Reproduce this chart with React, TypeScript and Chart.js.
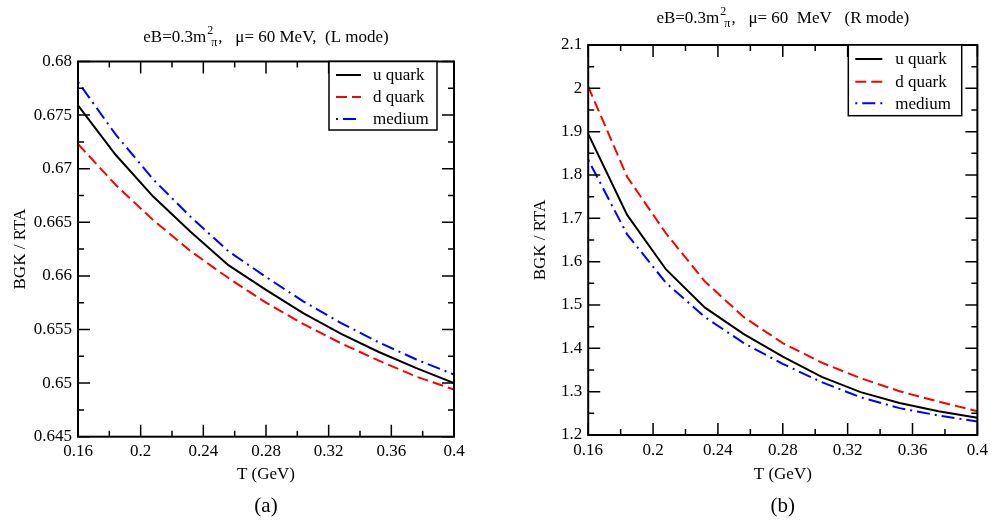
import React, { useEffect, useRef } from 'react';
import { Chart, registerables } from 'chart.js';

Chart.register(...registerables);

const FONT = '"Liberation Serif", "Times New Roman", serif';

// ---- data ----
const T_GEV = [0.16, 0.184, 0.208, 0.232, 0.256, 0.28, 0.304, 0.328, 0.352, 0.376, 0.4];

const L_U_QUARK = [0.6759, 0.6713, 0.6674, 0.6641, 0.661, 0.6587, 0.6565, 0.6546, 0.6529, 0.6514, 0.65];
const L_D_QUARK = [0.6723, 0.6685, 0.6652, 0.6623, 0.6598, 0.6575, 0.6555, 0.6537, 0.6521, 0.6506, 0.6494];
const L_MEDIUM = [0.6781, 0.6732, 0.669, 0.6655, 0.6623, 0.6599, 0.6576, 0.6556, 0.6538, 0.6522, 0.6508];

const R_U_QUARK = [1.895, 1.708, 1.582, 1.494, 1.433, 1.381, 1.334, 1.299, 1.274, 1.255, 1.24];
const R_D_QUARK = [2.004, 1.796, 1.665, 1.554, 1.472, 1.412, 1.367, 1.331, 1.301, 1.277, 1.255];
const R_MEDIUM = [1.835, 1.663, 1.551, 1.472, 1.412, 1.364, 1.322, 1.287, 1.262, 1.245, 1.231];

const SERIES_LABELS = ['u quark', 'd quark', 'medium'];

const X_TICK_VALUES = [0.16, 0.18, 0.2, 0.22, 0.24, 0.26, 0.28, 0.3, 0.32, 0.34, 0.36, 0.38, 0.4];
const X_TICK_LABELS = ['0.16', '', '0.2', '', '0.24', '', '0.28', '', '0.32', '', '0.36', '', '0.4'];

const L_Y_TICK_VALUES = [0.645, 0.6475, 0.65, 0.6525, 0.655, 0.6575, 0.66, 0.6625, 0.665, 0.6675, 0.67, 0.6725, 0.675, 0.6775, 0.68];
const L_Y_TICK_LABELS = ['0.645', '', '0.65', '', '0.655', '', '0.66', '', '0.665', '', '0.67', '', '0.675', '', '0.68'];

const R_Y_TICK_VALUES = [1.2, 1.25, 1.3, 1.35, 1.4, 1.45, 1.5, 1.55, 1.6, 1.65, 1.7, 1.75, 1.8, 1.85, 1.9, 1.95, 2.0, 2.05, 2.1];
const R_Y_TICK_LABELS = ['1.2', '', '1.3', '', '1.4', '', '1.5', '', '1.6', '', '1.7', '', '1.8', '', '1.9', '', '2', '', '2.1'];

const STYLES = [
  { color: '#000000', dash: [] as number[], offset: 0 },
  { color: '#ff0000', dash: [11, 5], offset: 0 },
  { color: '#0000ff', dash: [13, 5, 2, 5], offset: 18 },
];

type PanelCfg = {
  left: number;
  width: number;
  padTop: number;
  padRight: number;
  padBottom: number;
  yAxisWidth: number;
  yTitlePad: number;
  xTitlePad: number;
  yMin: number;
  yMax: number;
  yTicks: number[];
  yLabels: string[];
  series: number[][];
  titleA: string;
  titleB: string;
  titleBaseline: number;
  legend: { left: number; top: number; w: number; h: number; rows: number[]; lineX0: number; lineX1: number; textX: number };
  tag: string;
};

const decorPlugin = {
  id: 'decor',
  afterDatasetsDraw(chart: any, _args: any, o: any) {
    const { ctx, chartArea: a } = chart;
    const xs = chart.scales.x;
    const ys = chart.scales.y;
    ctx.save();
    ctx.strokeStyle = '#000';
    ctx.lineWidth = 1.5;
    ctx.setLineDash([]);
    xs.ticks.forEach((t: any, i: number) => {
      const len = o.xLabels[i] !== '' ? 12 : 6;
      const px = xs.getPixelForValue(t.value);
      ctx.beginPath();
      ctx.moveTo(px, a.bottom);
      ctx.lineTo(px, a.bottom - len);
      ctx.moveTo(px, a.top);
      ctx.lineTo(px, a.top + len);
      ctx.stroke();
    });
    ys.ticks.forEach((t: any, i: number) => {
      const len = o.yLabels[i] !== '' ? 12 : 6;
      const py = ys.getPixelForValue(t.value);
      ctx.beginPath();
      ctx.moveTo(a.left, py);
      ctx.lineTo(a.left + len, py);
      ctx.moveTo(a.right, py);
      ctx.lineTo(a.right - len, py);
      ctx.stroke();
    });
    // frame
    ctx.lineWidth = 2;
    ctx.strokeRect(a.left, a.top, a.right - a.left, a.bottom - a.top);

    // legend
    const lg = o.legend;
    ctx.fillStyle = '#fff';
    ctx.fillRect(lg.left, lg.top, lg.w, lg.h);
    ctx.lineWidth = 1.5;
    ctx.strokeStyle = '#000';
    ctx.strokeRect(lg.left, lg.top, lg.w, lg.h);
    ctx.font = `17px ${FONT}`;
    ctx.textBaseline = 'middle';
    ctx.textAlign = 'left';
    chart.data.datasets.forEach((ds: any, i: number) => {
      const y = lg.top + lg.rows[i];
      ctx.beginPath();
      ctx.strokeStyle = ds.borderColor;
      ctx.lineWidth = 2;
      ctx.setLineDash(ds.borderDash || []);
      ctx.lineDashOffset = ds.borderDashOffset || 0;
      ctx.moveTo(lg.left + lg.lineX0, y);
      ctx.lineTo(lg.left + lg.lineX1, y);
      ctx.stroke();
      ctx.setLineDash([]);
      ctx.lineDashOffset = 0;
      ctx.fillStyle = '#000';
      ctx.fillText(ds.label, lg.left + lg.textX, y + 1);
    });

    // title with super/subscripts
    const cx = (a.left + a.right) / 2;
    const big = `17px ${FONT}`;
    const small = `12px ${FONT}`;
    ctx.textBaseline = 'alphabetic';
    ctx.font = big;
    const wA = ctx.measureText(o.titleA).width;
    const wB = ctx.measureText(o.titleB).width;
    ctx.font = small;
    const wPi = ctx.measureText('π').width;
    const total = wA + 6 + wPi + wB;
    let x = cx - total / 2;
    const by = o.titleBaseline;
    ctx.fillStyle = '#000';
    ctx.font = big;
    ctx.fillText(o.titleA, x, by);
    x += wA;
    ctx.font = small;
    ctx.fillText('2', x + 1, by - 8);
    ctx.fillText('π', x + 5, by + 4);
    x += 6 + wPi;
    ctx.font = big;
    ctx.fillText(o.titleB, x, by);

    // panel tag
    ctx.font = `21px ${FONT}`;
    ctx.textAlign = 'center';
    ctx.textBaseline = 'middle';
    ctx.fillText(o.tag, cx, 506);
    ctx.restore();
  },
};

const LEFT_CFG: PanelCfg = {
  left: 0,
  width: 496,
  padTop: 61.5,
  padRight: 42,
  padBottom: 31.3,
  yAxisWidth: 78,
  yTitlePad: 10,
  xTitlePad: 3.5,
  yMin: 0.645,
  yMax: 0.68,
  yTicks: L_Y_TICK_VALUES,
  yLabels: L_Y_TICK_LABELS,
  series: [L_U_QUARK, L_D_QUARK, L_MEDIUM],
  titleA: 'eB=0.3m',
  titleB: ',   μ= 60 MeV,  (L mode)',
  titleBaseline: 42,
  legend: { left: 329, top: 61.5, w: 108, h: 68.5, rows: [13.5, 35.5, 57.5], lineX0: 7, lineX1: 32, textX: 44 },
  tag: '(a)',
};

const RIGHT_CFG: PanelCfg = {
  left: 496,
  width: 497,
  padTop: 45,
  padRight: 14.7,
  padBottom: 33,
  yAxisWidth: 92.2,
  yTitlePad: 34,
  xTitlePad: 1.8,
  yMin: 1.2,
  yMax: 2.1,
  yTicks: R_Y_TICK_VALUES,
  yLabels: R_Y_TICK_LABELS,
  series: [R_U_QUARK, R_D_QUARK, R_MEDIUM],
  titleA: 'eB=0.3m',
  titleB: ',   μ= 60  MeV   (R mode)',
  titleBaseline: 23,
  legend: { left: 352.3, top: 45, w: 113.4, h: 70.7, rows: [14, 36.7, 58.3], lineX0: 7, lineX1: 34, textX: 47 },
  tag: '(b)',
};

function Panel({ cfg }: { cfg: PanelCfg }) {
  const ref = useRef<HTMLCanvasElement | null>(null);
  useEffect(() => {
    if (!ref.current) return;
    const tickFont = { family: FONT, size: 17 };
    const chart = new Chart(ref.current, {
      type: 'line',
      data: {
        datasets: cfg.series.map((vals, i) => ({
          label: SERIES_LABELS[i],
          data: T_GEV.map((t, j) => ({ x: t, y: vals[j] })),
          borderColor: STYLES[i].color,
          borderDash: STYLES[i].dash,
          borderDashOffset: STYLES[i].offset,
          borderWidth: 2,
          pointRadius: 0,
          tension: 0,
          fill: false,
        })),
      },
      options: {
        responsive: false,
        animation: false,
        devicePixelRatio: 1,
        layout: { padding: { left: 0, right: cfg.padRight, top: cfg.padTop, bottom: cfg.padBottom } },
        plugins: {
          legend: { display: false },
          tooltip: { enabled: false },
          title: { display: false },
          decor: {
            xLabels: X_TICK_LABELS,
            yLabels: cfg.yLabels,
            legend: cfg.legend,
            titleA: cfg.titleA,
            titleB: cfg.titleB,
            titleBaseline: cfg.titleBaseline,
            tag: cfg.tag,
          },
        } as any,
        scales: {
          x: {
            type: 'linear',
            min: 0.16,
            max: 0.4,
            afterBuildTicks: (s: any) => {
              s.ticks = X_TICK_VALUES.map((v) => ({ value: v }));
            },
            afterFit: (s: any) => {
              s.height = 52;
            },
            grid: { display: false, drawTicks: false },
            border: { display: false },
            ticks: {
              autoSkip: false,
              maxRotation: 0,
              padding: 5,
              color: '#000',
              font: tickFont,
              callback: (_v: any, i: number) => X_TICK_LABELS[i],
            },
            title: {
              display: true,
              text: 'T (GeV)',
              color: '#000',
              font: tickFont,
              padding: { top: 0, bottom: cfg.xTitlePad },
            },
          },
          y: {
            type: 'linear',
            min: cfg.yMin,
            max: cfg.yMax,
            afterBuildTicks: (s: any) => {
              s.ticks = cfg.yTicks.map((v) => ({ value: v }));
            },
            afterFit: (s: any) => {
              s.width = cfg.yAxisWidth;
            },
            grid: { display: false, drawTicks: false },
            border: { display: false },
            ticks: {
              autoSkip: false,
              padding: 6,
              color: '#000',
              font: tickFont,
              callback: (_v: any, i: number) => cfg.yLabels[i],
            },
            title: {
              display: true,
              text: 'BGK / RTA',
              color: '#000',
              font: tickFont,
              padding: { top: cfg.yTitlePad, bottom: 0 },
            },
          },
        },
      } as any,
      plugins: [decorPlugin as any],
    });
    return () => chart.destroy();
  }, [cfg]);
  return (
    <canvas
      ref={ref}
      width={cfg.width}
      height={520}
      style={{ position: 'absolute', left: cfg.left, top: 0, width: cfg.width, height: 520 }}
    />
  );
}

export default function App() {
  return (
    <div style={{ position: 'absolute', left: 0, top: 0, width: 993, height: 520, background: '#fff' }}>
      <Panel cfg={LEFT_CFG} />
      <Panel cfg={RIGHT_CFG} />
    </div>
  );
}
